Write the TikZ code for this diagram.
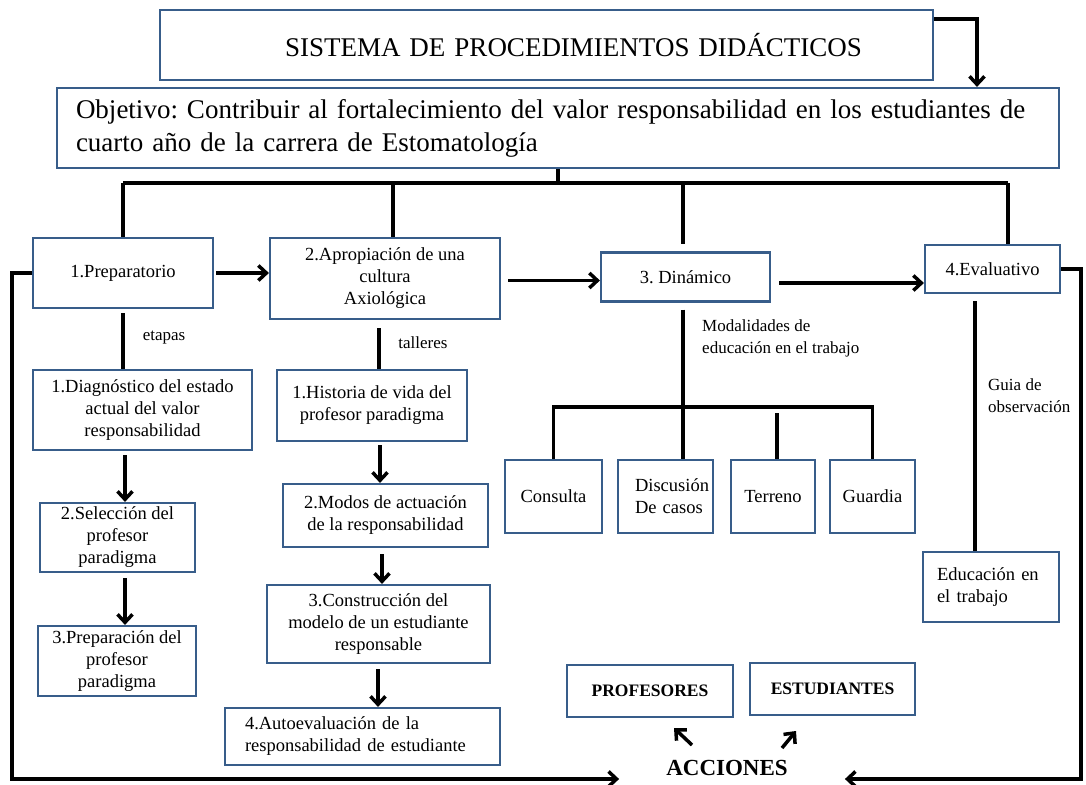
\documentclass[tikz,border=0pt]{standalone}
\usepackage{fontspec}
\setmainfont{Liberation Serif}
\usetikzlibrary{arrows.meta}
\definecolor{bx}{HTML}{385D8A}
\begin{document}
\frenchspacing
\begin{tikzpicture}[x=1pt,y=-1pt,
  box/.style={draw=bx, line width=2.2pt, rectangle, inner sep=0pt, align=center,
    font=\fontsize{18.5}{22}\selectfont},
  boldbox/.style={box, font=\fontsize{17.5}{22}\selectfont\bfseries},
  lbl/.style={inner sep=0pt, align=left, font=\fontsize{17}{22}\selectfont},
  conn/.style={line width=3.5pt, draw=black},
  busline/.style={line width=4.5pt, draw=black},
  arr/.style={conn, -{Straight Barb[length=8pt,width=15pt]}}
]
\useasboundingbox (0,0) rectangle (1086,784);
\fill[white] (0,0) rectangle (1086,784);

% top boxes
\node[box, minimum width=773pt, minimum height=70pt, text width=753pt, inner xsep=10pt, align=left,
  font=\fontsize{27}{30}\selectfont] (title) at (546.5,45) {\mbox{\hspace*{115pt}SISTEMA DE PROCEDIMIENTOS DIDÁCTICOS}};
\node[box, minimum width=1002pt, minimum height=80pt, text width=982pt, inner xsep=10pt, align=left,
  font=\fontsize{27}{33}\selectfont] (obj) at (558,128)
  {\mbox{\hspace*{9pt}Objetivo: Contribuir al fortalecimiento del valor responsabilidad en los estudiantes de}\\\mbox{\hspace*{9pt}cuarto año de la carrera de Estomatología}};

% main stages
\node[box, minimum width=180pt, minimum height=70pt] (prep) at (123,273) {1.Preparatorio};
\node[box, minimum width=230pt, minimum height=81pt] (aprop) at (385,278.5) {2.Apropiación de una\\cultura\\Axiológica};
\node[box, minimum width=169pt, minimum height=49pt] (dinam) at (685.5,277) {3. Dinámico};
\node[box, minimum width=135pt, minimum height=48pt] (eval) at (992.5,269) {4.Evaluativo};

% column 1
\node[box, minimum width=219pt, minimum height=80pt] (diag) at (142.5,410) {1.Diagnóstico del estado\\actual del valor\\responsabilidad};
\node[box, minimum width=155pt, minimum height=69pt] (sel) at (117.5,537.5) {2.Selección del\\profesor\\paradigma};
\node[box, minimum width=158pt, minimum height=70pt] (prepp) at (117,661) {3.Preparación del\\profesor\\paradigma};

% column 2
\node[box, minimum width=190pt, minimum height=71pt] (hist) at (372,405.5) {1.Historia de vida del\\profesor paradigma};
\node[box, minimum width=205pt, minimum height=63pt] (modos) at (385.5,515.5) {2.Modos de actuación\\de la responsabilidad};
\node[box, minimum width=223pt, minimum height=78pt] (constr) at (378.5,624) {3.Construcción del\\modelo de un estudiante\\responsable};
\node[box, minimum width=275pt, minimum height=57pt, text width=255pt, inner xsep=10pt, align=left] (auto) at (362.5,736.5) {\hspace*{10pt}4.Autoevaluación de la\\\hspace*{10pt}responsabilidad de estudiante};

% column 3
\node[box, minimum width=97pt, minimum height=73pt] (cons) at (553.5,496.5) {Consulta};
\node[box, minimum width=95pt, minimum height=73pt, text width=89pt, inner xsep=3pt, align=left] (disc) at (665.5,496.5) {\mbox{\hspace*{14pt}Discusión}\\\mbox{\hspace*{14pt}De casos}};
\node[box, minimum width=84pt, minimum height=73pt] (terr) at (773,496.5) {Terreno};
\node[box, minimum width=85pt, minimum height=73pt] (guard) at (872.5,496.5) {Guardia};

% column 4
\node[box, minimum width=136pt, minimum height=70pt, text width=120pt, inner xsep=8pt, align=left] (educ) at (991,587) {\hspace*{6pt}Educación en\\\hspace*{6pt}el trabajo};

% bottom
\node[boldbox, minimum width=166pt, minimum height=52pt] (prof) at (650,691) {PROFESORES};
\node[boldbox, minimum width=165pt, minimum height=52pt] (est) at (832.5,689) {ESTUDIANTES};
\node[inner sep=0pt, font=\fontsize{23}{26}\selectfont\bfseries] (acc) at (727,768) {ACCIONES};

% labels
\node[lbl] (etapas) at (164,338) {etapas};
\node[lbl] (talleres) at (423,343) {talleres};
\node[lbl, anchor=west] (modal) at (702,338) {Modalidades de\\educación en el trabajo};
\node[lbl, anchor=west] (guia) at (988,396) {Guia de\\observación};

% coordinates
\coordinate (tr) at (977,19);
\coordinate (busL) at (123,183);
\coordinate (busR) at (1008,183);
\coordinate (b2) at (393,183);
\coordinate (c1) at (125,0);
\coordinate (c2) at (379,0);
\coordinate (c3) at (683,0);
\coordinate (c4) at (975,0);
\coordinate (bus3) at (0,407);
\coordinate (lx) at (12,779);
\coordinate (rx) at (1081,779);
\coordinate (a1s) at (692,745);
\coordinate (a1e) at (674,728);
\coordinate (a2s) at (782,748);
\coordinate (a2e) at (796,731);

% top connectors
\draw[arr] (title.east |- tr) -| (obj.north -| tr);
\draw[conn] (obj.south) -- (obj.south |- busL);
\draw[busline] (busL) -- (busR);
\draw[conn] (busL) -- (busL |- prep.north);
\draw[conn] (b2) -- (b2 |- aprop.north);
\draw[conn] (busL -| c3) -- ([yshift=7pt]dinam.north -| c3);
\draw[conn] (busR) -- (busR |- eval.north);

% stage arrows
\draw[arr, shorten <=2pt] (prep.east) -- (prep.east -| aprop.west);
\draw[arr, shorten <=7pt] ([yshift=-2pt]aprop.east) -- ([yshift=-2pt]aprop.east -| dinam.west);
\draw[arr, shorten <=8pt] ([yshift=-6pt]dinam.east) -- ([yshift=-6pt]dinam.east -| eval.west);

% column 1
\draw[conn, shorten <=4pt] (prep.south -| busL) -- (diag.north -| busL);
\draw[arr, shorten <=4pt] (diag.south -| c1) -- (sel.north -| c1);
\draw[arr, shorten <=5pt] (sel.south -| c1) -- (prepp.north -| c1);

% column 2
\draw[conn, shorten <=8pt] (aprop.south -| c2) -- (hist.north -| c2);
\draw[arr, shorten <=3pt] ([xshift=1pt]hist.south -| c2) -- ([xshift=1pt]modos.north -| c2);
\draw[arr, shorten <=6pt] ([xshift=3pt]modos.south -| c2) -- ([xshift=3pt]constr.north -| c2);
\draw[arr, shorten <=5pt] ([xshift=-1pt]constr.south -| c2) -- ([xshift=-1pt]auto.north -| c2);

% column 3
\draw[conn, shorten <=7pt] (dinam.south -| c3) -- (disc.north -| c3);
\draw[conn] (cons.north) -- (cons.north |- bus3) -- (guard.north |- bus3) -- (guard.north);
\draw[conn] ([xshift=4pt,yshift=-6pt]terr.north |- bus3) -- ([xshift=4pt]terr.north);

% column 4
\draw[conn, shorten <=7pt] (eval.south -| c4) -- (educ.north -| c4);

% loops to ACCIONES
\draw[arr, shorten >=47pt] (prep.west) -| (lx) -- (lx -| acc.west);
\draw[arr, shorten >=57pt] (eval.east) -| (rx) -- (rx -| acc.east);

% small arrows
\draw[arr] (a1s) -- (a1e);
\draw[arr] (a2s) -- (a2e);
\end{tikzpicture}
\end{document}
